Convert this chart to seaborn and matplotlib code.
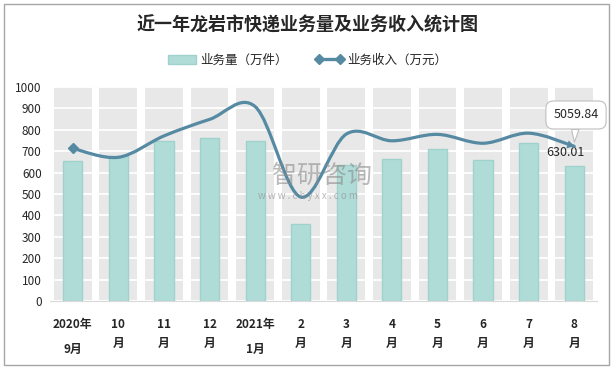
import numpy as np
import pandas as pd
import seaborn as sns
import matplotlib.pyplot as plt
from matplotlib.path import Path
from matplotlib.patches import PathPatch, Patch, Rectangle
from matplotlib.lines import Line2D

# data
months = ['2020年\n9月', '10\n月', '11\n月', '12\n月', '2021年\n1月', '2\n月',
          '3\n月', '4\n月', '5\n月', '6\n月', '7\n月', '8\n月']
volume = [656, 677, 749, 763, 749, 358, 634, 665, 712, 660, 740, 630.01]   # 万件
income = [4990, 4700, 5400, 5940, 6360, 3400, 5460, 5240, 5450, 5160, 5490, 5059.84]  # 万元

title = '近一年龙岩市快递业务量及业务收入统计图'
bar_lbl, line_lbl = '业务量（万件）', '业务收入（万元）'

df = pd.DataFrame({'月份': months, '业务量': volume, '业务收入': income})

bar_c, bar_ec = '#b0dcd8', '#9fd2cd'
line_c = '#568aa3'
band_c = '#e8e8e8'

sns.set_style('white')
plt.rcParams['font.family'] = ['Noto Sans CJK SC', 'DejaVu Sans']

fig = plt.figure(figsize=(6.15, 3.68), dpi=100)
ax = fig.add_axes([50/615, 1-301/368, 547/615, 214/368])

# grey column bands behind each category
for i in range(len(months)):
    ax.axvspan(i-0.415, i+0.415, color=band_c, lw=0, zorder=0)

sns.barplot(data=df, x='月份', y='业务量', color=bar_c, width=0.42, saturation=1,
            edgecolor=bar_ec, linewidth=1, ax=ax, zorder=2)

ax.set_xlim(-0.5, len(months)-0.5)
ax.set_ylim(0, 1000)
ax.set_yticks(range(0, 1001, 100))
ax.yaxis.grid(True, color='white', lw=1.3)
ax.set_axisbelow(True)
ax.set_xlabel(''); ax.set_ylabel('')
for s in ['left', 'top', 'right']:
    ax.spines[s].set_visible(False)
ax.spines['bottom'].set_color('#d9d9d9')
ax.set_xticks(np.arange(len(months)+1)-0.5, minor=True)
ax.tick_params(axis='x', which='minor', length=5, color='#d9d9d9', direction='out')
ax.tick_params(axis='x', which='major', length=0, pad=12)
ax.tick_params(axis='y', length=0, labelsize=8.5, labelcolor='#262626', pad=6)
ax.set_xticks(range(len(months)))
ax.set_xticklabels(months, fontsize=8.5, fontweight='bold', color='#262626')
for t in ax.get_xticklabels():
    t.set_linespacing(2.2 if '年' in t.get_text() else 1.6)

# revenue on hidden secondary axis, smooth line
ax2 = ax.twinx()
ax2.set_ylim(0, 7000)
ax2.set_axis_off()
pts = np.column_stack([np.arange(len(income)), income]).astype(float)
verts, codes = [pts[0]], [Path.MOVETO]
n = len(pts)
for i in range(n-1):
    p0 = pts[i-1] if i > 0 else pts[i]
    p3 = pts[i+2] if i+2 < n else pts[i+1]
    verts += [pts[i] + (pts[i+1]-p0)/6, pts[i+1] - (p3-pts[i])/6, pts[i+1]]
    codes += [Path.CURVE4]*3
ax2.add_patch(PathPatch(Path(verts, codes), fc='none', ec=line_c, lw=2.3,
                        capstyle='round', zorder=3))
ax2.plot(pts[0, 0], pts[0, 1], marker='D', ms=5, color=line_c, zorder=4)
ax2.annotate('', xy=pts[-1], xytext=verts[-2],
             arrowprops=dict(arrowstyle='-|>,head_length=0.5,head_width=0.3',
                             color=line_c, lw=0, shrinkA=0, shrinkB=0))

ax2.annotate(f'{income[-1]:.2f}', xy=pts[-1], xytext=(576, 253), textcoords='figure pixels',
             ha='center', va='center', fontsize=9, color='#262626',
             bbox=dict(boxstyle='round,pad=0.6', fc='white', ec='#bfbfbf', lw=0.8),
             arrowprops=dict(arrowstyle='wedge,tail_width=0.6', fc='white', ec='#bfbfbf',
                             lw=0.8, shrinkA=0, shrinkB=3))
ax.annotate(f'{volume[-1]:.2f}', xy=(len(volume)-1, volume[-1]), xytext=(-6, 10),
            textcoords='offset points', ha='center', va='center', fontsize=9,
            color='#262626', zorder=5)

# watermark
fig.text(322/615, 1-176/368, '智研咨询', fontsize=18, color='#8c8c8c', alpha=0.6,
         ha='center', va='center')
fig.text(308/615, 1-196/368, 'w w w . c h y x x . c o m', fontsize=7, color='#8c8c8c',
         alpha=0.6, ha='center', va='center')

fig.text(0.5, 1-25/368, title, ha='center', va='center', fontsize=13,
         fontweight='bold', color='#262626')
handles = [Patch(fc=bar_c, ec=bar_ec),
           Line2D([0], [0], color=line_c, lw=2.4, marker='D', ms=5)]
fig.legend(handles, [bar_lbl, line_lbl], loc='center', bbox_to_anchor=(0.5, 1-60/368),
           ncol=2, frameon=False, fontsize=9, numpoints=2, handlelength=2.3,
           handletextpad=0.3, columnspacing=2.2, labelcolor='#262626')

fig.add_artist(Rectangle((4/615, 3/368), 605/615, 361/368, fill=False, ec='#a6a6a6',
                         lw=1, transform=fig.transFigure))

fig.savefig('out.png', dpi=100)
